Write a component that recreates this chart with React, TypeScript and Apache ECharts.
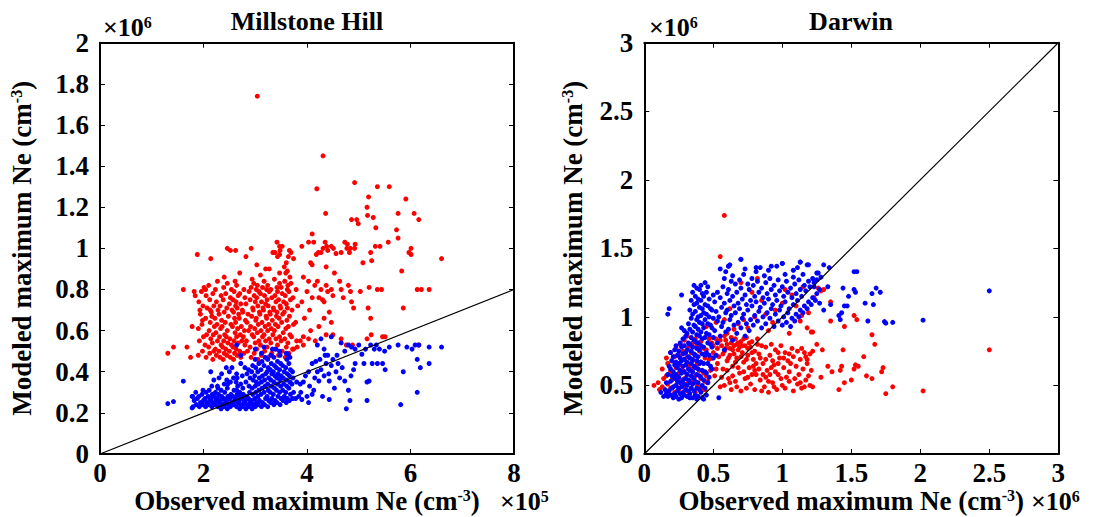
import React, { useEffect, useRef } from "react";
import * as echarts from "echarts";

const FONT = "'Liberation Serif', 'Times New Roman', serif";

// ---------- Millstone Hill (x in 1e5 cm^-3, y in 1e6 cm^-3) ----------
const millstoneXRange = [0, 8];
const millstoneYRange = [0, 2];
const millstoneDiagonal = [[0, 0], [8, 0.8]];

const millstoneRedCore = [
  [1.92,0.55],[1.90,0.61],[1.94,0.68],[1.91,0.74],
  [1.98,0.50],[2.00,0.57],[1.97,0.63],[1.99,0.72],[1.96,0.79],
  [2.05,0.47],[2.03,0.53],[2.06,0.58],[2.04,0.66],[2.07,0.71],[2.05,0.77],
  [2.12,0.49],[2.10,0.52],[2.14,0.56],[2.11,0.60],[2.13,0.64],[2.15,0.69],[2.12,0.75],[2.10,0.82],
  [2.18,0.46],[2.20,0.50],[2.17,0.54],[2.19,0.58],[2.21,0.62],[2.16,0.67],[2.20,0.72],[2.18,0.78],
  [2.25,0.48],[2.23,0.51],[2.27,0.55],[2.24,0.59],[2.26,0.63],[2.22,0.66],[2.28,0.70],[2.25,0.74],[2.23,0.80],[2.27,0.84],
  [2.32,0.47],[2.30,0.50],[2.34,0.53],[2.31,0.57],[2.33,0.61],[2.35,0.65],[2.30,0.68],[2.32,0.72],[2.34,0.77],
  [2.38,0.46],[2.40,0.49],[2.37,0.52],[2.39,0.55],[2.41,0.58],[2.36,0.62],[2.40,0.69],[2.38,0.75],[2.39,0.81],
  [2.45,0.48],[2.43,0.51],[2.47,0.54],[2.44,0.57],[2.46,0.60],[2.42,0.64],[2.48,0.67],[2.45,0.71],[2.43,0.78],[2.46,0.83],
  [2.52,0.47],[2.50,0.50],[2.54,0.53],[2.51,0.56],[2.53,0.63],[2.55,0.70],[2.50,0.73],[2.52,0.76],[2.54,0.80],
  [2.58,0.46],[2.60,0.49],[2.57,0.52],[2.59,0.55],[2.61,0.59],[2.56,0.62],[2.60,0.66],[2.58,0.69],[2.62,0.72],[2.57,0.75],[2.59,0.79],[2.61,0.84],
  [2.65,0.48],[2.63,0.51],[2.67,0.54],[2.64,0.57],[2.66,0.61],[2.62,0.64],[2.68,0.68],[2.65,0.71],[2.63,0.74],[2.67,0.77],[2.64,0.82],
  [2.72,0.47],[2.70,0.50],[2.74,0.55],[2.71,0.58],[2.73,0.62],[2.69,0.66],[2.75,0.70],[2.72,0.73],[2.70,0.78],
  [2.78,0.49],[2.80,0.53],[2.77,0.57],[2.79,0.60],[2.81,0.65],[2.76,0.69],[2.80,0.76],[2.78,0.80],
  [2.85,0.50],[2.83,0.55],[2.87,0.60],[2.84,0.64],[2.86,0.68],[2.82,0.73],[2.88,0.79],
  [2.92,0.47],[2.90,0.52],[2.94,0.58],[2.91,0.62],[2.93,0.67],[2.95,0.71],[2.90,0.75],[2.92,0.81],[2.94,0.85],
  [2.98,0.49],[3.00,0.54],[2.97,0.57],[2.99,0.61],[3.01,0.65],[2.96,0.70],[3.00,0.74],[2.98,0.77],[3.02,0.80],[2.97,0.83],
  [3.05,0.46],[3.03,0.51],[3.07,0.55],[3.04,0.59],[3.06,0.63],[3.02,0.66],[3.08,0.69],[3.05,0.72],[3.03,0.76],[3.07,0.79],[3.04,0.82],
  [3.12,0.48],[3.10,0.53],[3.14,0.57],[3.11,0.60],[3.13,0.64],[3.09,0.68],[3.15,0.71],[3.12,0.74],[3.10,0.78],[3.14,0.81],
  [3.18,0.50],[3.20,0.55],[3.17,0.58],[3.19,0.62],[3.21,0.67],[3.16,0.70],[3.20,0.73],[3.18,0.77],[3.22,0.80],[3.17,0.84],
  [3.25,0.47],[3.23,0.52],[3.27,0.56],[3.24,0.60],[3.26,0.63],[3.22,0.66],[3.28,0.69],[3.25,0.72],[3.23,0.75],[3.27,0.79],[3.24,0.82],
  [3.32,0.49],[3.30,0.54],[3.34,0.58],[3.31,0.61],[3.33,0.65],[3.29,0.68],[3.35,0.71],[3.32,0.76],[3.30,0.80],
  [3.38,0.51],[3.40,0.56],[3.37,0.60],[3.39,0.63],[3.41,0.67],[3.36,0.70],[3.40,0.74],[3.38,0.77],[3.42,0.81],[3.37,0.85],
  [3.45,0.48],[3.43,0.53],[3.47,0.57],[3.44,0.62],[3.46,0.66],[3.42,0.69],[3.48,0.72],[3.45,0.75],[3.43,0.79],[3.47,0.83],
  [3.52,0.50],[3.50,0.55],[3.54,0.59],[3.51,0.64],[3.53,0.68],[3.49,0.71],[3.55,0.74],[3.52,0.78],[3.50,0.81],
  [3.58,0.47],[3.60,0.52],[3.57,0.56],[3.59,0.61],[3.61,0.65],[3.56,0.69],[3.60,0.73],[3.58,0.77],[3.62,0.80],[3.57,0.84],[3.59,0.88],
  [3.65,0.49],[3.63,0.54],[3.67,0.58],[3.64,0.62],[3.66,0.67],[3.62,0.71],[3.68,0.75],[3.65,0.79],[3.63,0.82],[3.67,0.86],
  [3.72,0.51],[3.70,0.57],[3.74,0.63],[3.71,0.70],[3.73,0.76],[3.69,0.83],
  [3.80,0.55],[3.78,0.64],[3.82,0.72],[3.79,0.80]
];

const millstoneRedSparse = [
  [3.04,1.74],[4.31,1.45],[4.19,1.29],[4.92,1.32],[5.36,1.30],[5.59,1.30],[5.91,1.24],[5.19,1.25],
  [5.16,1.20],[4.36,1.17],[5.76,1.17],[6.07,1.17],[5.17,1.16],[5.28,1.15],[4.86,1.14],[4.96,1.14],
  [4.99,1.12],[6.16,1.14],[5.33,1.10],[5.73,1.09],[5.76,1.05],[4.10,1.07],[5.57,1.03],[5.41,1.01],
  [5.32,1.01],[5.23,0.98],[6.01,1.00],[5.97,0.98],[6.01,0.97],[1.88,0.97],[2.14,0.95],[2.46,1.00],
  [2.52,0.99],[2.62,0.99],[2.92,1.00],[2.82,0.96],[3.34,0.98],[3.38,0.98],[3.42,1.03],[3.47,1.01],
  [3.52,1.01],[3.48,0.99],[3.43,0.96],[3.66,0.99],[3.69,0.98],[3.64,0.96],[3.74,0.95],[3.90,1.01],
  [4.03,1.03],[4.13,1.03],[4.22,0.98],[4.27,0.98],[4.31,1.00],[4.35,1.03],[4.38,1.01],[4.40,0.99],
  [4.47,1.01],[4.51,1.00],[4.66,0.98],[4.73,1.03],[4.78,1.02],[4.77,1.00],[4.84,1.00],[4.93,1.02],
  [4.92,1.00],[4.82,0.98],[6.60,0.95],
  [4.56,0.975],[5.08,0.93],[5.25,0.94],[3.03,0.92],[3.20,0.90],[3.27,0.90],[3.47,0.88],[3.60,0.93],
  [3.47,0.97],[4.07,0.93],[4.10,0.92],[4.37,0.91],[4.53,0.88],[5.83,0.89],[4.18,0.97],[3.56,0.91],
  [3.62,0.89],[2.70,0.88],[2.40,0.86],[3.10,0.87],
  [1.61,0.80],[1.82,0.79],[1.84,0.77],[1.93,0.70],[2.13,0.70],[2.01,0.81],[2.04,0.80],[1.78,0.62],
  [1.98,0.65],[1.68,0.52],[1.31,0.49],[1.42,0.52],[1.75,0.47],[1.90,0.48],
  [3.93,0.86],[4.03,0.84],[4.00,0.79],[4.10,0.76],[4.15,0.82],[4.20,0.84],[4.23,0.76],[4.27,0.80],
  [4.30,0.75],[4.33,0.74],[4.37,0.82],[4.40,0.79],[4.47,0.80],[4.50,0.77],[4.63,0.84],[4.66,0.80],
  [4.70,0.76],[4.80,0.82],[4.84,0.79],[4.86,0.74],[4.90,0.71],[5.03,0.79],[5.20,0.81],[5.36,0.80],
  [5.44,0.80],[5.18,0.71],[5.23,0.66],[5.86,0.71],[6.13,0.80],[6.21,0.80],[6.36,0.80],[4.43,0.69],
  [4.33,0.66],[4.47,0.64],[4.23,0.62],[4.37,0.58],[4.50,0.58],[4.66,0.56],[4.76,0.53],[4.88,0.53],
  [5.24,0.58],[5.46,0.57],[5.51,0.57],[5.16,0.56],[6.16,0.53],[4.07,0.60],[3.93,0.57],[4.03,0.56],
  [4.16,0.55],[3.74,0.51],[3.81,0.52],[3.87,0.55],[3.93,0.53],[3.95,0.66],[4.05,0.70],[3.90,0.74]
];

const millstoneBlueCore = [
  [1.80,0.23],[1.82,0.26],[1.79,0.28],
  [1.86,0.24],[1.88,0.27],[1.85,0.30],
  [1.92,0.23],[1.94,0.25],[1.91,0.28],
  [1.98,0.24],[2.00,0.26],[1.97,0.29],[1.99,0.31],
  [2.04,0.23],[2.06,0.25],[2.03,0.27],[2.05,0.30],
  [2.10,0.24],[2.12,0.26],[2.09,0.28],[2.11,0.31],
  [2.16,0.23],[2.18,0.25],[2.15,0.27],[2.17,0.29],[2.16,0.33],
  [2.22,0.24],[2.24,0.26],[2.21,0.28],[2.23,0.30],
  [2.28,0.23],[2.30,0.25],[2.27,0.27],[2.29,0.29],[2.28,0.32],
  [2.34,0.22],[2.36,0.24],[2.33,0.26],[2.35,0.28],[2.34,0.31],
  [2.40,0.23],[2.42,0.25],[2.39,0.27],[2.41,0.30],[2.40,0.34],
  [2.46,0.22],[2.48,0.24],[2.45,0.26],[2.47,0.28],[2.46,0.32],
  [2.52,0.23],[2.54,0.25],[2.51,0.27],[2.53,0.29],[2.52,0.35],
  [2.58,0.24],[2.60,0.26],[2.57,0.28],[2.59,0.31],[2.58,0.37],
  [2.64,0.23],[2.66,0.25],[2.63,0.27],[2.65,0.29],[2.64,0.31],[2.66,0.33],[2.63,0.35],[2.65,0.37],[2.64,0.39],
  [2.70,0.22],[2.72,0.24],[2.69,0.26],[2.71,0.28],[2.70,0.30],[2.72,0.34],
  [2.76,0.23],[2.78,0.25],[2.75,0.27],[2.77,0.29],[2.76,0.32],
  [2.82,0.22],[2.84,0.24],[2.81,0.26],[2.83,0.28],[2.82,0.35],[2.84,0.39],
  [2.88,0.23],[2.90,0.25],[2.87,0.27],[2.89,0.30],[2.88,0.33],[2.90,0.37],[2.87,0.41],
  [2.94,0.22],[2.96,0.24],[2.93,0.26],[2.95,0.29],[2.94,0.32],[2.96,0.36],[2.93,0.40],[2.95,0.43],
  [3.00,0.23],[3.02,0.25],[2.99,0.27],[3.01,0.30],[3.00,0.33],[3.02,0.35],[2.99,0.38],[3.01,0.42],[3.00,0.46],
  [3.06,0.24],[3.08,0.26],[3.05,0.28],[3.07,0.31],[3.06,0.34],[3.08,0.37],[3.05,0.40],[3.07,0.44],
  [3.12,0.23],[3.14,0.25],[3.11,0.29],[3.13,0.32],[3.12,0.35],[3.14,0.38],[3.11,0.41],[3.13,0.45],[3.12,0.49],
  [3.18,0.24],[3.20,0.27],[3.17,0.30],[3.19,0.33],[3.18,0.36],[3.20,0.39],[3.17,0.43],[3.19,0.47],
  [3.24,0.23],[3.26,0.26],[3.23,0.28],[3.25,0.31],[3.24,0.34],[3.26,0.37],[3.23,0.40],[3.25,0.42],[3.24,0.46],
  [3.30,0.25],[3.32,0.27],[3.29,0.30],[3.31,0.33],[3.30,0.36],[3.32,0.39],[3.29,0.41],[3.31,0.44],[3.30,0.48],
  [3.36,0.24],[3.38,0.26],[3.35,0.29],[3.37,0.32],[3.36,0.35],[3.38,0.38],[3.35,0.40],[3.37,0.43],[3.36,0.47],
  [3.42,0.25],[3.44,0.28],[3.41,0.31],[3.43,0.34],[3.42,0.37],[3.44,0.39],[3.41,0.42],[3.43,0.45],
  [3.48,0.24],[3.50,0.27],[3.47,0.30],[3.49,0.33],[3.48,0.36],[3.50,0.38],[3.47,0.41],[3.49,0.44],[3.48,0.48],
  [3.54,0.26],[3.56,0.28],[3.53,0.31],[3.55,0.34],[3.54,0.37],[3.56,0.40],[3.53,0.43],
  [3.60,0.25],[3.62,0.27],[3.59,0.30],[3.61,0.33],[3.60,0.36],[3.62,0.39],[3.59,0.42],[3.61,0.46],
  [3.66,0.26],[3.68,0.29],[3.65,0.32],[3.67,0.35],[3.66,0.38],[3.68,0.41],[3.65,0.44],
  [3.72,0.27],[3.74,0.30],[3.71,0.34],[3.73,0.37],[3.72,0.40],
  [2.30,0.37],[2.45,0.36],[2.50,0.40],[2.20,0.36],[2.35,0.39],[2.55,0.42],[2.75,0.38],[2.80,0.42],[2.72,0.44],
  [3.78,0.27],[3.84,0.28],[3.88,0.30]
];

const millstoneBlueSparse = [
  [1.31,0.245],[1.42,0.255],[1.61,0.354],[1.78,0.28],[1.78,0.224],[2.14,0.40],[2.27,0.33],[2.44,0.42],
  [2.47,0.34],[2.64,0.53],[2.72,0.48],[3.00,0.51],[3.17,0.52],[3.33,0.51],[3.40,0.51],[3.47,0.50],
  [3.60,0.49],[3.63,0.485],[3.67,0.47],
  [3.87,0.34],[3.80,0.35],[3.93,0.35],[3.97,0.38],[4.03,0.40],[4.10,0.44],[4.17,0.45],[4.20,0.53],
  [4.27,0.56],[4.33,0.51],[4.47,0.57],[4.40,0.48],[4.37,0.44],[4.47,0.43],[4.50,0.46],[4.56,0.40],
  [4.60,0.44],[4.63,0.37],[4.66,0.54],[4.73,0.50],[4.80,0.53],[4.86,0.52],[4.93,0.51],[5.00,0.53],
  [5.06,0.485],[5.13,0.51],[5.23,0.53],[5.30,0.51],[5.34,0.53],[5.40,0.51],[5.50,0.50],[5.59,0.52],
  [5.76,0.53],[5.93,0.52],[6.03,0.51],[6.09,0.53],[6.16,0.53],[6.36,0.52],[6.60,0.52],[6.13,0.46],
  [6.36,0.44],[6.19,0.42],[5.86,0.40],[6.13,0.30],[5.81,0.24],[5.16,0.26],[4.76,0.22],[4.83,0.26],
  [4.80,0.31],[4.85,0.38],[4.90,0.41],[5.16,0.35],[5.20,0.355],[4.93,0.44],[5.10,0.44],[5.26,0.44],
  [5.36,0.44],[5.46,0.44],[5.51,0.41],[4.73,0.355],[4.53,0.32],[4.43,0.265],[4.30,0.28],[4.10,0.29],
  [4.03,0.25],[4.00,0.28],[3.90,0.265],[4.13,0.31],[4.23,0.355],[4.33,0.38],[4.43,0.355],[4.27,0.41],
  [4.20,0.40],[4.25,0.46],[4.35,0.48],[4.15,0.37],[4.05,0.33],[4.42,0.39],[4.58,0.48],[4.68,0.42]
];

// ---------- Darwin (x, y in 1e6 cm^-3) ----------
const darwinXRange = [0, 3];
const darwinYRange = [0, 3];
const darwinDiagonal = [[0, 0], [3, 3]];

const darwinRedCore = [
  [0.07,0.50],[0.10,0.52],[0.11,0.47],
  [0.13,0.49],[0.14,0.55],[0.13,0.62],
  [0.16,0.46],[0.17,0.51],[0.16,0.57],[0.17,0.66],[0.16,0.70],
  [0.19,0.48],[0.20,0.54],[0.19,0.60],[0.20,0.68],[0.19,0.74],
  [0.22,0.45],[0.23,0.50],[0.22,0.56],[0.23,0.63],[0.22,0.71],[0.23,0.77],
  [0.25,0.47],[0.26,0.53],[0.25,0.59],[0.26,0.65],[0.25,0.72],[0.26,0.80],
  [0.28,0.49],[0.29,0.55],[0.28,0.61],[0.29,0.69],[0.28,0.75],[0.29,0.83],
  [0.31,0.46],[0.32,0.52],[0.31,0.58],[0.32,0.64],[0.31,0.71],[0.32,0.78],[0.31,0.86],
  [0.34,0.48],[0.35,0.54],[0.34,0.62],[0.35,0.68],[0.34,0.74],[0.35,0.81],
  [0.37,0.45],[0.38,0.51],[0.37,0.57],[0.38,0.65],[0.37,0.72],[0.38,0.79],[0.37,0.84],
  [0.40,0.49],[0.41,0.55],[0.40,0.61],[0.41,0.67],[0.40,0.75],[0.41,0.82],
  [0.43,0.47],[0.44,0.53],[0.43,0.59],[0.44,0.70],[0.43,0.77],
  [0.44,0.47],[0.46,0.53],[0.45,0.57]
];

const darwinRedCluster = [
  [0.46,0.52],[0.48,0.61],[0.47,0.69],[0.45,0.76],[0.49,0.81],[0.51,0.57],[0.50,0.74],[0.53,0.66],[0.52,0.84],[0.54,0.71],
  [0.55,0.49],[0.56,0.79],[0.57,0.62],[0.58,0.75],[0.59,0.83],[0.60,0.68],[0.61,0.55],[0.62,0.77],[0.63,0.81],[0.62,0.72],
  [0.64,0.64],[0.65,0.79],[0.66,0.84],[0.67,0.70],[0.68,0.76],[0.69,0.59],[0.70,0.82],[0.71,0.74],[0.72,0.67],[0.73,0.79],
  [0.74,0.85],[0.75,0.72],[0.76,0.63],[0.77,0.78],[0.78,0.82],[0.79,0.69],[0.80,0.75],[0.81,0.58],[0.82,0.80],[0.83,0.73],
  [0.58,0.50],[0.63,0.47],[0.66,0.53],[0.70,0.46],[0.73,0.55],[0.77,0.51],[0.80,0.47],[0.84,0.54],[0.87,0.49],[0.90,0.45],
  [0.93,0.52],[0.96,0.47],[0.99,0.55],[1.02,0.48],[1.05,0.53],[1.08,0.46],[1.11,0.51],[1.14,0.48],[1.17,0.54],[1.20,0.50],
  [0.86,0.66],[0.88,0.78],[0.89,0.61],[0.91,0.72],[0.92,0.80],[0.94,0.65],[0.95,0.76],[0.97,0.58],[0.98,0.70],[0.99,0.79],
  [1.01,0.63],[1.02,0.74],[1.04,0.68],[1.05,0.60],[1.07,0.77],[1.08,0.71],[1.10,0.64],[1.11,0.75],[1.13,0.69],[1.15,0.62],
  [1.16,0.74],[1.18,0.66],[1.20,0.73],[1.21,0.61],[1.19,0.57],[1.12,0.58],[1.03,0.56],[0.95,0.60],[0.88,0.56],[0.80,0.61],
  [0.50,0.79],[0.55,0.83],[0.60,0.80],[0.64,0.76],[0.68,0.81],[0.72,0.84],[0.75,0.77],[0.78,0.74],[0.57,0.73],[0.61,0.70],
  [0.66,0.67],[0.70,0.71],[0.74,0.69],[0.53,0.77],[0.59,0.77],[0.65,0.73],[0.69,0.78],[0.76,0.81],[0.82,0.84],[0.85,0.79],
  [0.56,0.56],[0.60,0.61],[0.64,0.57],[0.68,0.63],[0.72,0.60],[0.75,0.56],[0.79,0.64],[0.83,0.62],[0.86,0.58],[0.90,0.53],
  [0.92,0.63],[0.97,0.66],[1.00,0.50],[1.06,0.66],[1.09,0.55],[1.13,0.52],[0.94,0.49],[0.85,0.46],[0.78,0.58],[0.62,0.52],
  [0.67,0.49],[0.74,0.48],[0.88,0.69],[0.91,0.58],[1.01,0.70],[1.05,0.73],[1.14,0.77],[1.17,0.71],[1.22,0.75],[0.97,0.74],
  [0.93,0.68],[0.84,0.70],[0.81,0.66],[0.52,0.62],[0.49,0.70],[0.47,0.84],[0.58,0.86],[0.63,0.85],[0.67,0.80],[0.71,0.79]
];

const darwinRedUpper = [
  [0.55,1.44],[0.58,1.74],[0.70,1.25],[0.82,1.28],[0.62,1.06],[0.68,0.95],[0.75,0.92],[0.80,1.00],
  [0.88,1.02],[0.95,1.05],[1.02,1.20],[1.07,1.16],[1.10,1.08],[1.13,0.97],[1.18,0.92],[1.22,0.89],
  [0.90,0.90],[0.60,0.88],[0.65,0.91],[0.72,0.98],[1.05,0.88],[1.15,1.22],[1.26,1.21],[0.45,0.93],
  [0.52,0.96],[0.58,0.98],[0.85,1.12],[0.78,1.18],[1.00,1.10],[0.93,0.96]
];

const darwinRedSparse = [
  [2.50,0.76],[2.02,0.46],[1.75,0.44],[1.80,0.49],[1.73,0.63],[1.72,0.60],[1.67,0.80],[1.65,0.87],
  [1.59,0.71],[1.65,0.55],[1.61,0.57],[1.55,0.64],[1.53,0.65],[1.52,0.62],[1.50,0.54],[1.45,0.52],
  [1.43,0.64],[1.42,0.61],[1.41,0.47],[1.44,0.76],[1.45,0.93],[1.54,0.98],[1.52,1.01],[1.35,0.97],
  [1.33,0.64],[1.36,0.60],[1.29,0.76],[1.18,0.69],[1.22,0.49],[1.16,0.49],[1.21,0.89],[1.30,1.20],
  [1.28,1.19],[1.23,1.14],[1.19,1.03],[1.14,1.01],[1.35,1.11],[1.25,0.80],[1.28,0.56]
];

const darwinBlueCore = [
  [0.14,0.42],[0.15,0.47],
  [0.17,0.42],[0.18,0.46],[0.16,0.52],[0.17,0.58],[0.18,0.64],[0.17,1.02],[0.18,1.06],
  [0.19,0.43],[0.20,0.48],[0.19,0.53],[0.20,0.57],[0.19,0.62],[0.20,0.68],[0.19,0.74],
  [0.21,0.41],[0.22,0.44],[0.21,0.49],[0.22,0.55],[0.21,0.60],[0.22,0.65],[0.21,0.71],[0.22,0.76],
  [0.23,0.42],[0.24,0.46],[0.23,0.50],[0.24,0.53],[0.23,0.58],[0.24,0.63],[0.23,0.67],[0.24,0.72],[0.23,0.79],
  [0.25,0.40],[0.26,0.44],[0.25,0.48],[0.26,0.52],[0.25,0.56],[0.26,0.61],[0.25,0.66],[0.26,0.70],[0.25,0.75],[0.26,0.81],
  [0.27,0.41],[0.28,0.45],[0.27,0.49],[0.28,0.54],[0.27,0.59],[0.28,0.64],[0.27,0.68],[0.28,0.73],[0.27,0.78],[0.28,0.84],[0.27,0.92],
  [0.29,0.43],[0.30,0.47],[0.29,0.51],[0.30,0.55],[0.29,0.60],[0.30,0.65],[0.29,0.69],[0.30,0.74],[0.29,0.79],[0.30,0.86],[0.29,0.90],[0.27,1.16],
  [0.31,0.42],[0.32,0.46],[0.31,0.50],[0.32,0.54],[0.31,0.58],[0.32,0.62],[0.31,0.67],[0.32,0.71],[0.31,0.76],[0.32,0.81],[0.31,0.88],[0.32,0.95],
  [0.33,0.44],[0.34,0.48],[0.33,0.52],[0.34,0.57],[0.33,0.61],[0.34,0.66],[0.33,0.70],[0.34,0.75],[0.33,0.80],[0.34,0.85],[0.33,0.91],[0.34,0.99],[0.33,1.05],[0.34,1.12],
  [0.35,0.41],[0.36,0.46],[0.35,0.51],[0.36,0.55],[0.35,0.60],[0.36,0.64],[0.35,0.69],[0.36,0.73],[0.35,0.78],[0.36,0.83],[0.35,0.89],[0.36,0.94],[0.35,1.02],[0.36,1.09],[0.35,1.18],[0.36,1.23],
  [0.37,0.43],[0.38,0.48],[0.37,0.53],[0.38,0.58],[0.37,0.63],[0.38,0.68],[0.37,0.72],[0.38,0.77],[0.37,0.82],[0.38,0.87],[0.37,0.93],[0.38,0.98],[0.37,1.04],[0.38,1.10],[0.37,1.15],[0.38,1.21],
  [0.39,0.42],[0.40,0.47],[0.39,0.52],[0.40,0.57],[0.39,0.62],[0.40,0.66],[0.39,0.71],[0.40,0.76],[0.39,0.81],[0.40,0.86],[0.39,0.91],[0.40,0.96],[0.39,1.00],[0.40,1.07],[0.39,1.13],[0.40,1.20],
  [0.41,0.45],[0.42,0.50],[0.41,0.56],[0.42,0.61],[0.41,0.67],[0.42,0.73],[0.41,0.79],[0.42,0.84],[0.41,0.89],[0.42,0.95],[0.41,1.01],[0.42,1.06],[0.41,1.12],[0.42,1.17],[0.41,1.23],
  [0.43,0.40],[0.44,0.48],[0.43,0.54],[0.44,0.60],[0.43,0.66],[0.44,0.72],[0.43,0.78],[0.44,0.85],[0.43,0.92],[0.44,0.98],[0.43,1.03],[0.44,1.09],[0.43,1.15],[0.44,1.25],
  [0.45,0.43],[0.46,0.52],[0.45,0.59],[0.46,0.66],[0.45,0.74],[0.46,0.81],[0.45,0.88],[0.46,0.95],[0.45,1.02],[0.46,1.08],[0.45,1.18],[0.46,1.22],
  [0.47,0.56],[0.48,0.64],[0.47,0.72],[0.48,0.80],[0.47,0.87],[0.48,0.94],[0.47,1.00],[0.48,1.06],[0.47,1.13],
  [0.49,0.62],[0.50,0.70],[0.49,0.78],[0.50,0.85],[0.49,0.92],[0.50,0.99],[0.49,1.05],[0.50,1.16],
  [0.33,0.41],[0.38,0.40],[0.42,0.41],[0.54,0.41],[0.12,0.45],[0.16,0.44]
];

const darwinBlueSpread = [
  [0.52,0.72],[0.53,0.81],[0.51,0.90],[0.53,0.97],[0.52,1.04],[0.51,1.11],[0.53,1.18],
  [0.55,0.86],[0.56,0.93],[0.54,1.00],[0.56,1.07],[0.55,1.14],[0.57,1.22],[0.55,1.35],
  [0.58,0.76],[0.59,0.89],[0.57,0.96],[0.59,1.03],[0.58,1.10],[0.60,1.17],[0.58,1.28],[0.59,1.33],
  [0.61,0.91],[0.62,0.98],[0.60,1.05],[0.62,1.12],[0.61,1.20],[0.63,1.26],[0.61,1.37],
  [0.64,0.83],[0.65,0.94],[0.63,1.01],[0.65,1.08],[0.64,1.15],[0.66,1.24],[0.64,1.30],
  [0.67,0.88],[0.68,0.96],[0.66,1.03],[0.68,1.10],[0.67,1.18],[0.69,1.27],
  [0.70,0.92],[0.71,0.99],[0.69,1.06],[0.71,1.13],[0.70,1.21],[0.72,1.31],[0.70,1.42],
  [0.73,0.86],[0.74,0.95],[0.72,1.02],[0.74,1.09],[0.73,1.16],[0.75,1.24],[0.73,1.35],
  [0.76,0.90],[0.77,0.98],[0.75,1.05],[0.77,1.12],[0.76,1.20],[0.78,1.28],
  [0.79,0.94],[0.80,1.01],[0.78,1.08],[0.80,1.15],[0.79,1.23],[0.81,1.33],
  [0.82,0.97],[0.83,1.04],[0.81,1.11],[0.83,1.18],[0.82,1.26],[0.84,1.36],
  [0.85,0.92],[0.86,1.00],[0.84,1.07],[0.86,1.14],[0.85,1.21],[0.87,1.30],
  [0.88,0.95],[0.89,1.03],[0.87,1.10],[0.89,1.17],[0.88,1.25],[0.90,1.34],
  [0.91,0.99],[0.92,1.06],[0.90,1.13],[0.92,1.20],[0.91,1.28],
  [0.94,0.93],[0.95,1.02],[0.93,1.09],[0.95,1.16],[0.94,1.23],[0.96,1.37],
  [0.97,0.97],[0.98,1.05],[0.96,1.12],[0.98,1.19],[0.97,1.27],
  [1.00,0.94],[1.01,1.00],[0.99,1.08],[1.01,1.15],[1.00,1.22],[1.02,1.31],[1.00,1.39],
  [1.03,0.96],[1.04,1.03],[1.02,1.11],[1.04,1.18],[1.03,1.26],
  [1.06,0.93],[1.07,0.99],[1.05,1.06],[1.07,1.14],[1.06,1.21],[1.08,1.29],
  [1.09,0.97],[1.10,1.02],[1.08,1.09],[1.10,1.17],[1.09,1.24],[1.11,1.36],
  [1.12,1.00],[1.13,1.05],[1.11,1.12],[1.13,1.20],[1.12,1.27],[1.13,1.40],
  [1.15,1.03],[1.16,1.08],[1.14,1.15],[1.16,1.23],[1.15,1.31],
  [1.18,1.06],[1.19,1.11],[1.17,1.19],[1.19,1.26],[1.18,1.38],
  [1.21,1.09],[1.22,1.14],[1.20,1.22],[1.22,1.28],
  [1.24,1.12],[1.25,1.17],[1.23,1.25],[1.25,1.32],
  [1.27,1.20],[1.28,1.29]
];

const darwinBlueSparse = [
  [2.50,1.19],[2.02,0.976],[1.74,0.966],[1.75,0.954],[1.80,0.96],[1.68,1.21],[1.71,1.18],[1.65,1.17],
  [1.60,1.10],[1.66,1.09],[1.62,0.97],[1.52,1.33],[1.54,1.33],[1.52,1.20],[1.53,1.18],[1.44,1.21],
  [1.48,1.15],[1.45,1.08],[1.47,1.08],[1.43,1.03],[1.41,1.01],[1.42,0.98],[1.35,1.09],[1.33,1.22],
  [1.30,1.38],[1.34,1.36],[1.26,1.32],[1.25,1.27],[1.23,1.22],[1.19,1.38],[1.13,1.40],[1.08,1.34],
  [1.00,1.39],[0.92,1.37],[0.81,1.36],[0.70,1.42],[0.62,1.38],[0.61,1.37],[1.30,1.05],[1.27,1.10]
];

const seriesColors = { observedHigh: "#ff0000", observedLow: "#0000ff" };

const TICK_FONT = 27;
const NAME_FONT = 27;

const supStyle = { fontSize: 16, fontWeight: "bold", fontFamily: FONT, color: "#000", verticalAlign: "top", lineHeight: 28 };

function xAxisPair(gridIndex: number, range: number[], interval: number, name: string) {
  const common = {
    gridIndex,
    type: "value",
    min: range[0],
    max: range[1],
    interval,
    splitLine: { show: false },
    axisLine: { show: true, onZero: false, lineStyle: { color: "#000", width: 2 } },
    axisTick: { show: true, inside: true, length: 5, lineStyle: { color: "#000", width: 1 } },
  };
  return [
    {
      ...common,
      position: "bottom",
      axisLabel: { color: "#000", fontSize: TICK_FONT, fontWeight: "bold", fontFamily: FONT, margin: 5 },
      name,
      nameLocation: "middle",
      nameGap: 33,
      nameMoveOverlap: false,
      nameTextStyle: {
        color: "#000", fontSize: NAME_FONT, fontWeight: "bold", fontFamily: FONT, lineHeight: 28,
        rich: { sup: supStyle },
      },
    },
    { ...common, position: "top", axisLabel: { show: false } },
  ];
}

function yAxisPair(gridIndex: number, range: number[], interval: number, name: string, gap: number) {
  const common = {
    gridIndex,
    type: "value",
    min: range[0],
    max: range[1],
    interval,
    splitLine: { show: false },
    axisLine: { show: true, onZero: false, lineStyle: { color: "#000", width: 2 } },
    axisTick: { show: true, inside: true, length: 5, lineStyle: { color: "#000", width: 1 } },
  };
  return [
    {
      ...common,
      position: "left",
      axisLabel: { color: "#000", fontSize: TICK_FONT, fontWeight: "bold", fontFamily: FONT, margin: 11 },
      name,
      nameLocation: "middle",
      nameRotate: 90,
      nameGap: gap,
      nameMoveOverlap: false,
      nameTextStyle: {
        color: "#000", fontSize: NAME_FONT, fontWeight: "bold", fontFamily: FONT, lineHeight: 28,
        rich: { sup: supStyle },
      },
    },
    { ...common, position: "right", axisLabel: { show: false } },
  ];
}

function scatter(data: number[][], color: string, xi: number, yi: number) {
  return {
    type: "scatter",
    xAxisIndex: xi,
    yAxisIndex: yi,
    data,
    symbol: "circle",
    symbolSize: 5,
    itemStyle: { color, opacity: 1 },
    silent: true,
  };
}

function diag(data: number[][], xi: number, yi: number) {
  return {
    type: "line",
    xAxisIndex: xi,
    yAxisIndex: yi,
    data,
    symbol: "none",
    lineStyle: { color: "#000", width: 1.2 },
    silent: true,
    z: 3,
  };
}

function expText(x: number, y: number, base: string, exp: string) {
  return {
    type: "text",
    x,
    y,
    style: {
      text: base + "{s|" + exp + "}",
      fill: "#000",
      fontSize: 26,
      fontWeight: "bold",
      fontFamily: FONT,
      align: "left",
      verticalAlign: "middle",
      rich: { s: { fontSize: 16, fontWeight: "bold", fontFamily: FONT, fill: "#000", verticalAlign: "top" } },
    },
  };
}

function titleText(x: number, y: number, text: string) {
  return {
    type: "text",
    x,
    y,
    style: {
      text,
      fill: "#000",
      fontSize: 26,
      fontWeight: "bold",
      fontFamily: FONT,
      align: "center",
      verticalAlign: "middle",
    },
  };
}

const xName = "Observed maximum Ne (cm{sup|-3})";
const yName = "Modeled maximum Ne (cm{sup|-3})";

export default function App() {
  const ref = useRef<HTMLDivElement>(null);
  useEffect(() => {
    if (!ref.current) return;
    const chart = echarts.init(ref.current, null, { renderer: "svg" });
    const option: any = {
      animation: false,
      backgroundColor: "#fff",
      grid: [
        { left: 100, top: 42.7, width: 414, height: 411.3, outerBoundsMode: "none", containLabel: false },
        { left: 644.3, top: 42.7, width: 414, height: 411.3, outerBoundsMode: "none", containLabel: false },
      ],
      xAxis: [
        ...xAxisPair(0, millstoneXRange, 2, xName),
        ...xAxisPair(1, darwinXRange, 0.5, xName),
      ],
      yAxis: [
        ...yAxisPair(0, millstoneYRange, 0.2, yName, 64),
        ...yAxisPair(1, darwinYRange, 0.5, yName, 57),
      ],
      series: [
        scatter(millstoneRedCore, seriesColors.observedHigh, 0, 0),
        scatter(millstoneRedSparse, seriesColors.observedHigh, 0, 0),
        scatter(millstoneBlueCore, seriesColors.observedLow, 0, 0),
        scatter(millstoneBlueSparse, seriesColors.observedLow, 0, 0),
        diag(millstoneDiagonal, 0, 0),
        scatter(darwinRedCore, seriesColors.observedHigh, 2, 2),
        scatter(darwinRedCluster, seriesColors.observedHigh, 2, 2),
        scatter(darwinRedUpper, seriesColors.observedHigh, 2, 2),
        scatter(darwinRedSparse, seriesColors.observedHigh, 2, 2),
        scatter(darwinBlueCore, seriesColors.observedLow, 2, 2),
        scatter(darwinBlueSpread, seriesColors.observedLow, 2, 2),
        scatter(darwinBlueSparse, seriesColors.observedLow, 2, 2),
        diag(darwinDiagonal, 2, 2),
      ],
      graphic: [
        titleText(307, 21, "Millstone Hill"),
        titleText(851, 21, "Darwin"),
        expText(103, 27, "×10", "6"),
        expText(649, 27, "×10", "6"),
        expText(500, 501, "×10", "5"),
        expText(1031, 501, "×10", "6"),
      ],
    };
    chart.setOption(option);
    return () => chart.dispose();
  }, []);
  return (
    <div
      ref={ref}
      style={{ position: "fixed", left: 0, top: 0, width: 1093, height: 517, background: "#fff" }}
    />
  );
}
